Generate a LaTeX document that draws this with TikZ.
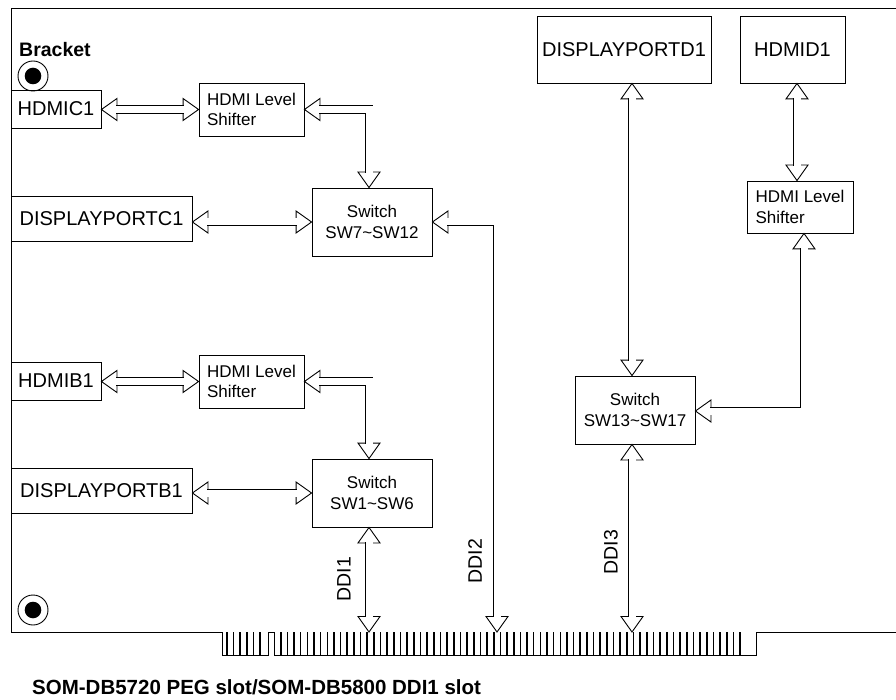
\documentclass[tikz,border=0pt]{standalone}
\usepackage{fontspec}
\setmainfont{Liberation Sans}
\tikzset{
  box/.style={draw, line width=0.9pt, inner sep=0pt, font=\fontsize{20}{24}\selectfont},
  ibox/.style={box, font=\fontsize{17}{20.5}\selectfont, align=center},
  lbox/.style={box, font=\fontsize{17}{20.5}\selectfont, align=left},
  pipe/.style={draw, line width=0.9pt, double=white, double distance=7pt, line join=miter, shorten <=15pt, shorten >=15pt},
  headst/.style={draw, fill=white, line width=0.9pt, line join=miter},
  finger/.style={line width=1.6pt},
  ddilab/.style={rotate=90, inner sep=0pt, font=\fontsize{19.5}{23}\selectfont},
  hL/.pic={\path[headst] (0,0) -- (15.5,-11) -- (15.5,11) -- cycle;},
  hR/.pic={\path[headst] (0,0) -- (-15.5,-11) -- (-15.5,11) -- cycle;},
  hU/.pic={\path[headst] (0,0) -- (-11,15.5) -- (11,15.5) -- cycle;},
  hD/.pic={\path[headst] (0,0) -- (-11,-15.5) -- (11,-15.5) -- cycle;}
}
\begin{document}
\begin{tikzpicture}[x=1pt,y=-1pt]
\useasboundingbox (0,0) rectangle (896,700);
% board outline with edge connector
\draw[line width=0.9pt] (896,8) -- (11,8) -- (11,632) -- (222,632) -- (222,655) -- (268,655) -- (268,632) -- (274,632) -- (274,655) -- (756,655) -- (756,632) -- (896,632);
\foreach \i in {0,...,5} \draw[finger] ({227+6.6*\i},632) -- ++(0,23);
\foreach \i in {0,...,69} \draw[finger] ({280.7+6.657*\i},632) -- ++(0,23);

% bracket holes
\node[circle, draw, line width=0.9pt, minimum size=30pt, inner sep=0pt] (hole1) at (33,76) {};
\node[circle, fill, minimum size=16.6pt, inner sep=0pt] (dot1) at (hole1) {};
\node[circle, draw, line width=0.9pt, minimum size=30pt, inner sep=0pt] (hole2) at (33,610) {};
\node[circle, fill, minimum size=16.6pt, inner sep=0pt] (dot2) at (hole2) {};
\node[anchor=base west, inner sep=0pt, font=\bfseries\fontsize{19.5}{23}\selectfont] (bracket) at (19,57) {Bracket};
\node[anchor=base west, inner sep=0pt, font=\bfseries\fontsize{20.5}{24}\selectfont] (title) at (32,694) {SOM-DB5720 PEG slot/SOM-DB5800 DDI1 slot};

% boxes
\node[box, minimum width=90pt, minimum height=38pt] (hc1) at (56,109) {HDMIC1};
\node[lbox, minimum width=105pt, minimum height=53pt] (hs1) at (251.5,109.5) {HDMI Level\\Shifter};
\node[box, minimum width=181pt, minimum height=45pt] (dpc1) at (101.5,218.5) {DISPLAYPORTC1};
\node[ibox, minimum width=120pt, minimum height=68pt] (sw1) at (372,222) {Switch\\SW7\textasciitilde SW12};

\node[box, minimum width=90pt, minimum height=38pt] (hb1) at (56,381) {HDMIB1};
\node[lbox, minimum width=105pt, minimum height=53pt] (hs2) at (251.5,381.5) {HDMI Level\\Shifter};
\node[box, minimum width=181pt, minimum height=45pt] (dpb1) at (101.5,490.5) {DISPLAYPORTB1};
\node[ibox, minimum width=120pt, minimum height=68pt] (sw2) at (372,493) {Switch\\SW1\textasciitilde SW6};

\node[box, minimum width=174pt, minimum height=67pt] (dpd1) at (624,49.5) {DISPLAYPORTD1};
\node[box, minimum width=105pt, minimum height=67pt] (hd1) at (792.5,49.5) {HDMID1};
\node[lbox, minimum width=106pt, minimum height=52pt] (hs3) at (800,207) {HDMI Level\\Shifter};
\node[ibox, minimum width=120pt, minimum height=68pt] (sw3) at (635,410) {Switch\\SW13\textasciitilde SW17};

% connector end points
\coordinate (ddi1) at (369,632);
\coordinate (ddi2) at (497,632);
\coordinate (ddi3) at (632,632);
\coordinate (a1) at (hc1.east |- hs1.west);
\coordinate (b1) at ([xshift=-3pt]sw1.north);
\coordinate (c1) at (dpc1.east |- sw1.west);
\coordinate (a2) at (hb1.east |- hs2.west);
\coordinate (b2) at ([xshift=-3pt]sw2.north);
\coordinate (c2) at (dpb1.east |- sw2.west);
\coordinate (d1) at (ddi1 |- sw2.south);
\coordinate (e1) at (ddi3 |- dpd1.south);
\coordinate (e2) at (ddi3 |- sw3.north);
\coordinate (e3) at (ddi3 |- sw3.south);
\coordinate (f1) at ([xshift=4.5pt]hd1.south);
\coordinate (f2) at ([xshift=-3pt]hs3.north);
\coordinate (g1) at ([xshift=4pt]hs3.south);
\coordinate (g2) at ([yshift=-1pt]sw3.east);

% arrow heads
\pic at (a1) {hL}; \pic at (hs1.west) {hR};
\pic at (hs1.east) {hL}; \pic at (b1) {hD};
\pic at (c1) {hL}; \pic at (sw1.west) {hR};
\pic at (sw1.east) {hL}; \pic at (ddi2) {hD};
\pic at (a2) {hL}; \pic at (hs2.west) {hR};
\pic at (hs2.east) {hL}; \pic at (b2) {hD};
\pic at (c2) {hL}; \pic at (sw2.west) {hR};
\pic at (d1) {hU}; \pic at (ddi1) {hD};
\pic at (e1) {hU}; \pic at (e2) {hD};
\pic at (e3) {hU}; \pic at (ddi3) {hD};
\pic at (f1) {hU}; \pic at (f2) {hD};
\pic at (g1) {hU}; \pic at (g2) {hL};

% pipes
\draw[pipe] (a1) -- (hs1.west);
\draw[pipe] (hs1.east) -| (b1);
\draw[pipe] (c1) -- (sw1.west);
\draw[pipe] (sw1.east) -| (ddi2);
\draw[pipe] (a2) -- (hs2.west);
\draw[pipe] (hs2.east) -| (b2);
\draw[pipe] (c2) -- (sw2.west);
\draw[pipe] (d1) -- (ddi1);
\draw[pipe] (e1) -- (e2);
\draw[pipe] (e3) -- (ddi3);
\draw[pipe] (f1) -- (f2);
\draw[pipe] (g1) |- (g2);

% DDI labels
\node[ddilab] (l1) at (344,579) {DDI1};
\node[ddilab] (l2) at (475,561) {DDI2};
\node[ddilab] (l3) at (611,552) {DDI3};
\end{tikzpicture}
\end{document}
